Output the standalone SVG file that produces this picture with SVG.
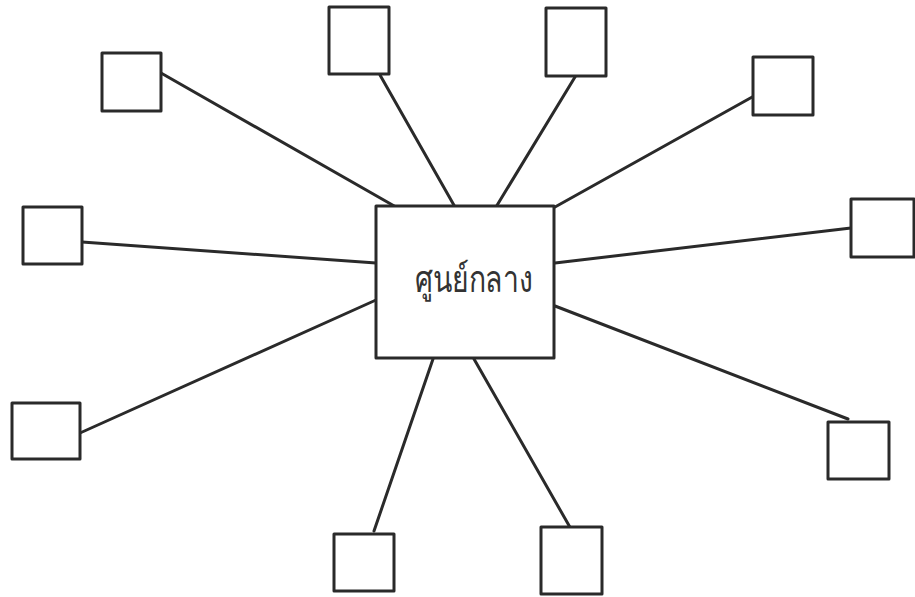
<svg xmlns="http://www.w3.org/2000/svg" width="915" height="597" viewBox="0 0 915 597">
  <style>
    .box { fill: #ffffff; stroke: #2a2a2a; stroke-width: 3; stroke-linejoin: round; }
    .link { stroke: #2a2a2a; stroke-width: 3; stroke-linecap: round; fill: none; }
    .label { font-family: "Noto Sans", "DejaVu Sans", "Liberation Sans", sans-serif; font-size: 37px; font-weight: 300; fill: #333333; }
  </style>
  <rect width="915" height="597" fill="#ffffff"/>

  <!-- spokes from the hub to the satellite boxes -->
  <g id="connectors">
    <line class="link" x1="161" y1="73" x2="396" y2="207"/>
    <line class="link" x1="380" y1="75" x2="455" y2="207"/>
    <line class="link" x1="575" y1="77" x2="496" y2="207"/>
    <line class="link" x1="754" y1="96" x2="555" y2="207"/>
    <line class="link" x1="851" y1="228" x2="555" y2="263"/>
    <line class="link" x1="848" y1="419" x2="555" y2="306"/>
    <line class="link" x1="571" y1="529" x2="474" y2="359"/>
    <line class="link" x1="374" y1="531" x2="433" y2="359"/>
    <line class="link" x1="80" y1="433" x2="376" y2="300"/>
    <line class="link" x1="82" y1="242" x2="376" y2="263"/>
  </g>

  <g id="hub">
    <rect class="box" x="376" y="206" width="178" height="152"/>
    <text class="label" x="415" y="292" textLength="118" lengthAdjust="spacingAndGlyphs">ศูนย์กลาง</text>
  </g>

  <g id="node-top-left"><rect class="box" x="102" y="53" width="59" height="58"/></g>
  <g id="node-top-1"><rect class="box" x="329" y="7" width="60" height="67"/></g>
  <g id="node-top-2"><rect class="box" x="546" y="8" width="60" height="68"/></g>
  <g id="node-top-right"><rect class="box" x="753" y="57" width="60" height="58"/></g>
  <g id="node-right"><rect class="box" x="851" y="199" width="63" height="58"/></g>
  <g id="node-bottom-right"><rect class="box" x="828" y="422" width="61" height="57"/></g>
  <g id="node-bottom-2"><rect class="box" x="541" y="527" width="61" height="67"/></g>
  <g id="node-bottom-1"><rect class="box" x="334" y="534" width="60" height="57"/></g>
  <g id="node-left-2"><rect class="box" x="12" y="403" width="68" height="56"/></g>
  <g id="node-left-1"><rect class="box" x="23" y="207" width="59" height="57"/></g>
</svg>
